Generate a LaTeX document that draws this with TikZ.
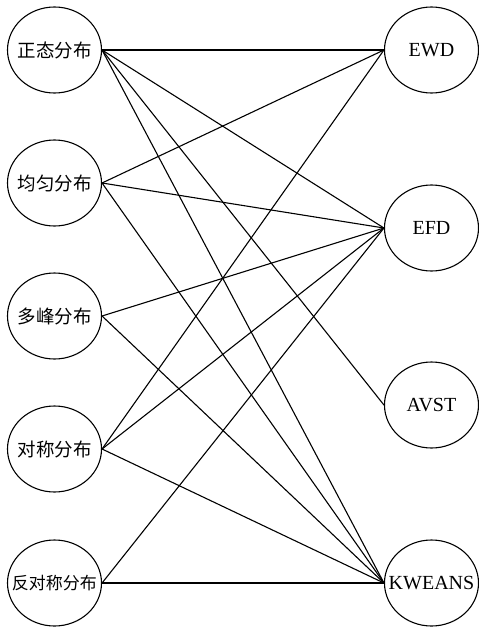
\documentclass[tikz,border=0pt]{standalone}
\usepackage{fontspec}
\setmainfont{Liberation Serif}
\newfontfamily\cjk{Noto Sans CJK SC}
\usetikzlibrary{shapes.geometric}
\begin{document}
\begin{tikzpicture}[x=1pt,y=-1pt,
  ell/.style={draw, ellipse, line width=1.1pt, minimum width=94pt, minimum height=86pt, inner sep=0pt},
  lft/.style={font=\cjk\fontsize{18.5}{18.5}\selectfont},
  rgt/.style={font=\fontsize{20}{20}\selectfont},
  link/.style={line width=1.1pt}]
\useasboundingbox (0,0) rectangle (479,627);
% distributions
\node[ell] (nd) at (54.5,50) {};
\node[ell] (ud) at (54.5,183) {};
\node[ell] (md) at (54.5,316) {};
\node[ell] (sd) at (54.5,449) {};
\node[ell] (ad) at (54.5,583) {};
\node[lft] (ndt) at (nd) {正态分布};
\node[lft] (udt) at (ud) {均匀分布};
\node[lft] (mdt) at (md) {多峰分布};
\node[lft] (sdt) at (sd) {对称分布};
\node[font=\cjk\fontsize{17}{17}\selectfont] (adt) at (ad) {反对称分布};
% discretisation methods
\node[ell] (ewd) at (431.5,50) {};
\node[ell] (efd) at (431.5,228) {};
\node[ell] (avst) at (431.5,405) {};
\node[ell] (kw) at (431.5,583) {};
\node[rgt] (ewdt) at (ewd) {EWD};
\node[rgt] (efdt) at (efd) {EFD};
\node[rgt] (avstt) at (avst) {AVST};
\node[rgt] (kwt) at (kw) {KWEANS};
% connections
\draw[link] (nd.east) -- (ewd.west);
\draw[link] (nd.east) -- (efd.west);
\draw[link] (nd.east) -- (avst.west);
\draw[link] (nd.east) -- (kw.west);
\draw[link] (ud.east) -- (ewd.west);
\draw[link] (ud.east) -- (efd.west);
\draw[link] (ud.east) -- (kw.west);
\draw[link] (md.east) -- (efd.west);
\draw[link] (md.east) -- (kw.west);
\draw[link] (sd.east) -- (ewd.west);
\draw[link] (sd.east) -- (efd.west);
\draw[link] (sd.east) -- (kw.west);
\draw[link] (ad.east) -- (efd.west);
\draw[link] (ad.east) -- (kw.west);
\end{tikzpicture}
\end{document}
